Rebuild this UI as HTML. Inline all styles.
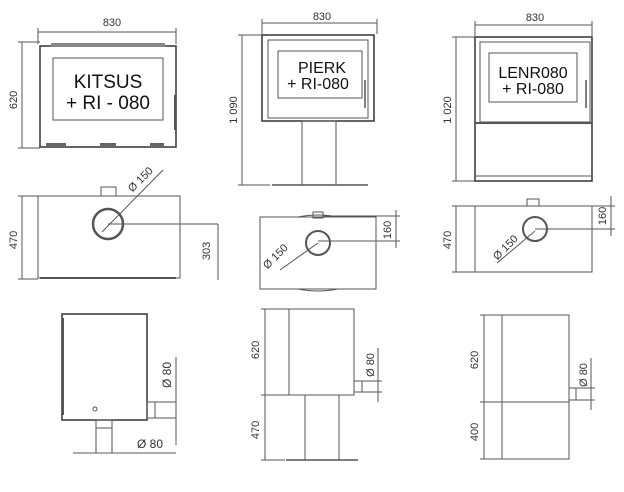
<!DOCTYPE html>
<html><head><meta charset="utf-8"><style>
html,body{margin:0;padding:0;background:#fff;}
svg{display:block;font-family:"Liberation Sans",sans-serif;}
</style></head><body>
<svg width="624" height="492" viewBox="0 0 624 492" xmlns="http://www.w3.org/2000/svg">
<g fill="none" stroke="#555" stroke-width="1">
<line x1="38" y1="32" x2="176" y2="32"/><line x1="38" y1="28" x2="38" y2="44"/><line x1="176" y1="28" x2="176" y2="44"/>
<line x1="22" y1="42" x2="22" y2="148"/><line x1="18" y1="42" x2="40" y2="42"/><line x1="18" y1="148" x2="40" y2="148"/>
<rect x="40" y="46" width="136" height="101" stroke="#333" stroke-width="1.5"/>
<rect x="51" y="43" width="114" height="4" fill="#888" stroke="none"/>
<rect x="53" y="58" width="110" height="62"/>
<line x1="175" y1="95" x2="175" y2="130" stroke-width="2"/>
<rect x="46" y="143" width="20" height="3" fill="#666" stroke="none"/><rect x="100" y="143" width="16" height="3" fill="#666" stroke="none"/><rect x="150" y="143" width="14" height="3" fill="#666" stroke="none"/>
<line x1="22" y1="196" x2="22" y2="279"/><line x1="18" y1="196" x2="38" y2="196"/><line x1="18" y1="279" x2="38" y2="279"/>
<rect x="38" y="196" width="142" height="82"/>
<line x1="40" y1="278" x2="176" y2="278" stroke-width="2"/>
<rect x="101" y="187" width="15" height="9"/>
<circle cx="108" cy="224" r="15" stroke-width="2.5"/>
<line x1="102" y1="232" x2="163" y2="170"/>
<line x1="108" y1="224" x2="218" y2="224"/><line x1="218" y1="224" x2="218" y2="280"/>
<rect x="62" y="314" width="85" height="106" stroke="#333" stroke-width="1.5"/>
<line x1="63" y1="318" x2="63" y2="415" stroke-width="2"/>
<rect x="147" y="402" width="29" height="16"/><line x1="155" y1="402" x2="155" y2="418"/>
<line x1="176" y1="357" x2="176" y2="445"/>
<rect x="96" y="420" width="16" height="33"/><line x1="96" y1="428" x2="112" y2="428"/>
<line x1="73" y1="453" x2="176" y2="453"/>
<circle cx="95" cy="409" r="2"/>
<line x1="262" y1="23" x2="377" y2="23"/><line x1="262" y1="19" x2="262" y2="34"/><line x1="377" y1="19" x2="377" y2="34"/>
<line x1="242" y1="35" x2="242" y2="185"/><line x1="238" y1="35" x2="262" y2="35"/><line x1="238" y1="185" x2="270" y2="185"/>
<rect x="262" y="35" width="112" height="86" stroke="#333" stroke-width="1.5"/>
<rect x="268" y="40" width="100" height="78"/>
<rect x="278" y="51" width="84" height="47"/>
<line x1="365" y1="80" x2="365" y2="108" stroke-width="1.5"/>
<rect x="302" y="121" width="34" height="64"/>
<line x1="272" y1="185" x2="368" y2="185" stroke-width="1.5"/>
<rect x="260" y="217" width="116" height="72"/>
<path d="M298 217 Q318 213 338 217"/><path d="M298 289 Q318 293 338 289"/>
<rect x="313" y="212" width="10" height="6"/>
<circle cx="318" cy="243" r="12" stroke-width="2"/>
<line x1="318" y1="243" x2="280" y2="270"/>
<line x1="318" y1="241" x2="400" y2="241"/><line x1="323" y1="216" x2="400" y2="216"/>
<line x1="396" y1="210" x2="396" y2="248"/>
<line x1="265" y1="309" x2="265" y2="460"/><line x1="261" y1="309" x2="289" y2="309"/><line x1="261" y1="395" x2="289" y2="395"/><line x1="261" y1="460" x2="285" y2="460"/>
<rect x="289" y="309" width="65" height="86"/>
<rect x="305" y="395" width="34" height="65"/>
<line x1="286" y1="460" x2="358" y2="460" stroke-width="1.5"/>
<rect x="354" y="381" width="8" height="11"/>
<line x1="378" y1="348" x2="378" y2="402"/><line x1="362" y1="381" x2="382" y2="381"/><line x1="362" y1="392" x2="382" y2="392"/>
<line x1="475" y1="25" x2="592" y2="25"/><line x1="475" y1="21" x2="475" y2="36"/><line x1="592" y1="21" x2="592" y2="36"/>
<line x1="456" y1="37" x2="456" y2="181"/><line x1="452" y1="37" x2="475" y2="37"/><line x1="452" y1="181" x2="475" y2="181"/>
<rect x="475" y="37" width="117" height="144" stroke="#333" stroke-width="1.5"/>
<rect x="480" y="42" width="110" height="80"/>
<rect x="489" y="53" width="88" height="49"/>
<line x1="475" y1="123" x2="592" y2="123" stroke-width="2"/>
<line x1="475" y1="176" x2="592" y2="176"/>
<line x1="586" y1="80" x2="586" y2="108" stroke-width="1.5"/>
<line x1="456" y1="206" x2="456" y2="272"/><line x1="452" y1="206" x2="475" y2="206"/><line x1="452" y1="272" x2="475" y2="272"/>
<rect x="475" y="206" width="117" height="66"/>
<rect x="527" y="199" width="12" height="7"/>
<circle cx="535" cy="229" r="12" stroke-width="2"/>
<line x1="535" y1="231" x2="497" y2="263"/>
<line x1="535" y1="229" x2="615" y2="229"/><line x1="592" y1="206" x2="615" y2="206"/>
<line x1="611" y1="196" x2="611" y2="236"/>
<line x1="484" y1="315" x2="484" y2="459"/><line x1="480" y1="315" x2="502" y2="315"/><line x1="480" y1="402" x2="502" y2="402"/><line x1="480" y1="459" x2="502" y2="459"/>
<rect x="502" y="315" width="67" height="144"/>
<line x1="502" y1="402" x2="569" y2="402"/>
<rect x="569" y="388" width="7" height="12"/>
<line x1="591" y1="358" x2="591" y2="410"/><line x1="576" y1="388" x2="595" y2="388"/><line x1="576" y1="400" x2="595" y2="400"/>
</g>
<g fill="#333" font-size="11">
<text x="112" y="26" text-anchor="middle">830</text>
<text x="322" y="20" text-anchor="middle">830</text>
<text x="535" y="21" text-anchor="middle">830</text>
<text transform="translate(17,100) rotate(-90)" text-anchor="middle">620</text>
<text transform="translate(17,240) rotate(-90)" text-anchor="middle">470</text>
<text transform="translate(210,251) rotate(-90)" text-anchor="middle">303</text>
<text transform="translate(143,182) rotate(-45)" text-anchor="middle">Ø 150</text>
<text transform="translate(171,375) rotate(-90)" text-anchor="middle" font-size="12">Ø 80</text>
<text x="150" y="448" text-anchor="middle" font-size="12">Ø 80</text>
<text transform="translate(237,110) rotate(-90)" text-anchor="middle">1 090</text>
<text transform="translate(391,230) rotate(-90)" text-anchor="middle">160</text>
<text transform="translate(278,259) rotate(-45)" text-anchor="middle">Ø 150</text>
<text transform="translate(259,350) rotate(-90)" text-anchor="middle">620</text>
<text transform="translate(259,430) rotate(-90)" text-anchor="middle">470</text>
<text transform="translate(374,365) rotate(-90)" text-anchor="middle">Ø 80</text>
<text transform="translate(451,110) rotate(-90)" text-anchor="middle">1 020</text>
<text transform="translate(451,240) rotate(-90)" text-anchor="middle">470</text>
<text transform="translate(606,216) rotate(-90)" text-anchor="middle">160</text>
<text transform="translate(508,250) rotate(-45)" text-anchor="middle">Ø 150</text>
<text transform="translate(478,360) rotate(-90)" text-anchor="middle">620</text>
<text transform="translate(478,432) rotate(-90)" text-anchor="middle">400</text>
<text transform="translate(587,375) rotate(-90)" text-anchor="middle">Ø 80</text>
</g>
<g fill="#111" text-anchor="middle">
<text x="108" y="88" font-size="19">KITSUS</text>
<text x="108" y="109" font-size="19">+ RI - 080</text>
<text x="322" y="73" font-size="16">PIERK</text>
<text x="318" y="89" font-size="16">+ RI-080</text>
<text x="533" y="78" font-size="16">LENR080</text>
<text x="533" y="94" font-size="16">+ RI-080</text>
</g>
</svg>
</body></html>
